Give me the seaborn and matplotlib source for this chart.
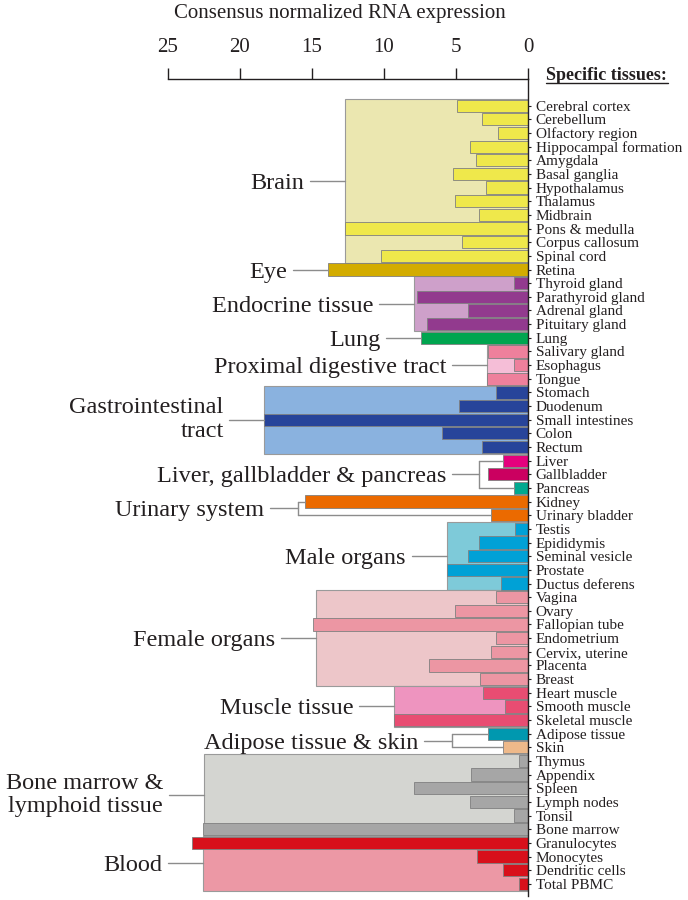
import pandas as pd
import seaborn as sns
import matplotlib.pyplot as plt
from matplotlib.patches import Rectangle
from matplotlib.lines import Line2D

# tissues, top to bottom
tissues = [
    "Cerebral cortex", "Cerebellum", "Olfactory region", "Hippocampal formation",
    "Amygdala", "Basal ganglia", "Hypothalamus", "Thalamus", "Midbrain",
    "Pons & medulla", "Corpus callosum", "Spinal cord",
    "Retina",
    "Thyroid gland", "Parathyroid gland", "Adrenal gland", "Pituitary gland",
    "Lung",
    "Salivary gland", "Esophagus", "Tongue",
    "Stomach", "Duodenum", "Small intestines", "Colon", "Rectum",
    "Liver", "Gallbladder", "Pancreas",
    "Kidney", "Urinary bladder",
    "Testis", "Epididymis", "Seminal vesicle", "Prostate", "Ductus deferens",
    "Vagina", "Ovary", "Fallopian tube", "Endometrium", "Cervix, uterine",
    "Placenta", "Breast",
    "Heart muscle", "Smooth muscle", "Skeletal muscle",
    "Adipose tissue", "Skin",
    "Thymus", "Appendix", "Spleen", "Lymph nodes", "Tonsil", "Bone marrow",
    "Granulocytes", "Monocytes", "Dendritic cells", "Total PBMC",
]
values = [
    4.9, 3.2, 2.1, 4.0, 3.6, 5.2, 2.9, 5.1, 3.4, 12.7, 4.6, 10.2,
    13.9,
    1.0, 7.7, 4.2, 7.0,
    7.4,
    2.8, 0.95, 2.85,
    2.2, 4.8, 18.3, 5.95, 3.2,
    1.75, 2.8, 0.95,
    15.5, 2.6,
    0.9, 3.4, 4.2, 5.6, 1.85,
    2.25, 5.1, 14.9, 2.2, 2.55, 6.9, 3.3,
    3.15, 1.6, 9.3,
    2.8, 1.75,
    0.6, 3.95, 7.9, 4.0, 1.0, 22.6,
    23.3, 3.55, 1.75, 0.6,
]

groups = [
    "Brain", "Eye", "Endocrine tissue", "Lung", "Proximal digestive tract",
    "Gastrointestinal\ntract", "Liver, gallbladder & pancreas", "Urinary system",
    "Male organs", "Female organs", "Muscle tissue", "Adipose tissue & skin",
    "Bone marrow &\nlymphoid tissue", "Blood",
]
group_sizes = [12, 1, 4, 1, 3, 5, 3, 2, 5, 7, 3, 2, 6, 4]
group_max = [12.7, None, 7.9, None, 2.85, 18.3, None, None, 5.65, 14.75, 9.3, None, 22.5, 22.6]
group_bracket = [None, None, None, None, None, None, 3.4, 16.0, None, None, None, 5.3, None, None]

bar_colors = (
    ["#EFE84B"] * 12 + ["#D3AC00"] + ["#923A8E"] * 4 + ["#00A54F"]
    + ["#EE809C"] * 3 + ["#27449A"] * 5 + ["#E5007D", "#CB0060", "#00A98F"]
    + ["#EB6A00"] * 2 + ["#00A1D6"] * 5 + ["#EC96A3"] * 7 + ["#E84D72"] * 3
    + ["#0098AF", "#EEB98A"] + ["#A6A6A6"] * 6 + ["#D8101B"] * 4
)
bg_colors = ["#EBE7B0", None, "#CEA0CA", None, "#F5BED7", "#8AB2DF", None, None,
             "#7ECAD9", "#EDC6C9", "#EE94BF", None, "#D4D5D1", "#EC98A5"]

df = pd.DataFrame({"tissue": tissues, "value": values})

sns.set_style("white")
plt.rcParams["font.family"] = ["Liberation Serif", "DejaVu Serif"]
ink = "#231F20"
line_gray = "#8C8C8C"

fig = plt.figure(figsize=(6.88, 9.0), dpi=100)
ax = fig.add_axes([168 / 688, 4 / 900, 360 / 688, 817 / 900])

sns.barplot(data=df, x="value", y="tissue", hue="tissue",
            palette=dict(zip(tissues, bar_colors)), saturation=1, orient="h",
            width=0.9, edgecolor="#808080", linewidth=0.6, legend=False, ax=ax)

# group backgrounds, connectors and labels
start = 0
for name, n, gmax, brk, bgc in zip(groups, group_sizes, group_max, group_bracket, bg_colors):
    first, last = start, start + n - 1
    mid = (first + last) / 2
    if gmax is not None:
        ax.add_patch(Rectangle((0, first - 0.5), gmax, n, facecolor=bgc,
                               edgecolor="#9A9A9A", lw=0.8, zorder=0))
        target, seg = gmax, 2.43
    elif brk is not None:
        ax.plot([brk, brk], [first, last], color=line_gray, lw=1, clip_on=False)
        ax.plot([brk, values[first]], [first, first], color=line_gray, lw=1)
        ax.plot([brk, values[last]], [last, last], color=line_gray, lw=1)
        target, seg = brk, 1.9
    else:
        target, seg = values[first], 2.43
    ax.plot([target, target + seg], [mid, mid], color=line_gray, lw=1, clip_on=False)
    ax.text(target + seg + 0.4, mid, name, ha="right",
            va="center" if "\n" in name else "center_baseline",
            multialignment="right", fontsize=17.5, color=ink, linespacing=1.15)
    start += n

ax.set_xlim(25, 0)
ax.set_ylim(57.89, -1.956)
ax.set_xlabel("")
ax.set_ylabel("")
ax.xaxis.tick_top()
ax.set_xticks([25, 20, 15, 10, 5, 0])
ax.set_xticklabels(["25", "20", "15", "10", "5", "0"])
ax.tick_params(axis="x", direction="out", length=8, width=1, pad=8,
               labelsize=15, colors=ink)
ax.yaxis.tick_right()
ax.tick_params(axis="y", direction="out", length=2.5, width=0.8, pad=3,
               labelsize=11, colors=ink)
for side in ["left", "bottom"]:
    ax.spines[side].set_visible(False)
for side in ["top", "right"]:
    ax.spines[side].set_color(ink)
    ax.spines[side].set_linewidth(1)

fig.text(340 / 688, 1 - 18 / 900, "Consensus normalized RNA expression",
         ha="center", va="baseline", fontsize=15, color=ink)
fig.text(546 / 688, 1 - 80 / 900, "Specific tissues:", ha="left", va="baseline",
         fontsize=13, fontweight="bold", color=ink)
fig.add_artist(Line2D([546 / 688, 668 / 688], [1 - 83 / 900] * 2, color=ink, lw=1))

fig.savefig("out.png", dpi=100)
